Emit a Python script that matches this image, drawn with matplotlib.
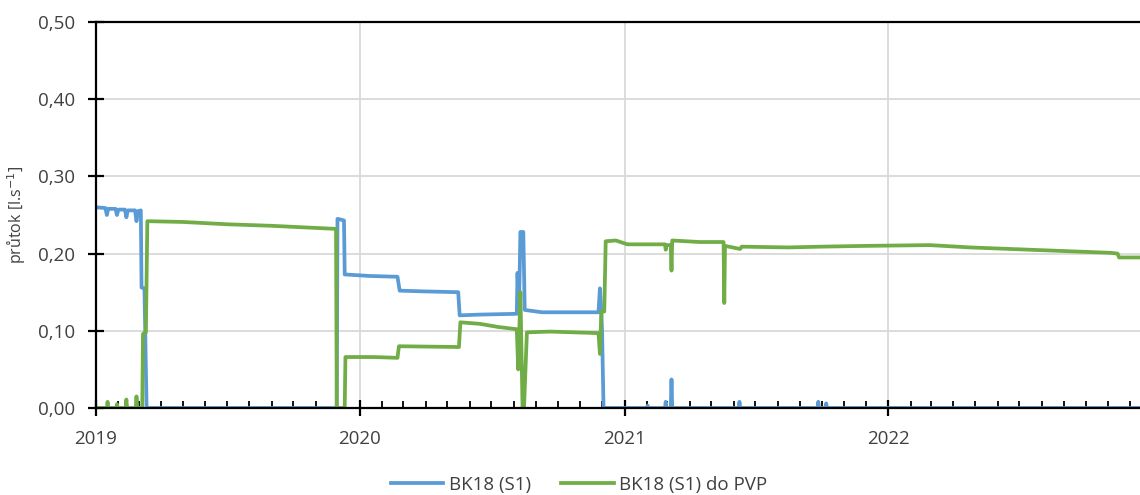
import numpy as np
import pandas as pd
import matplotlib
matplotlib.use("Agg")
import matplotlib.pyplot as plt
import matplotlib.dates as mdates
from matplotlib.ticker import FuncFormatter, MultipleLocator

plt.rcParams['font.family'] = ['Open Sans', 'DejaVu Sans']

# BK18 (S1)
blue_dates = [
    "2019-01-01", "2019-01-14", "2019-01-16", "2019-01-18", "2019-01-28", "2019-01-30",
    "2019-02-01", "2019-02-10", "2019-02-12", "2019-02-14", "2019-02-24", "2019-02-26",
    "2019-02-28", "2019-03-04", "2019-03-05", "2019-03-09", "2019-03-12",
    "2019-11-30", "2019-12-01", "2019-12-10", "2019-12-11", "2020-01-15", "2020-02-22",
    "2020-02-25", "2020-04-01", "2020-05-16", "2020-05-18", "2020-06-15", "2020-08-05",
    "2020-08-06", "2020-08-08", "2020-08-10", "2020-08-14", "2020-08-16", "2020-09-09",
    "2020-11-26", "2020-11-28", "2020-11-30", "2020-12-01", "2020-12-03",
    "2021-02-01", "2021-02-02", "2021-02-03", "2021-02-26", "2021-02-27", "2021-02-28",
    "2021-03-06", "2021-03-07", "2021-03-08", "2021-06-08", "2021-06-09", "2021-06-10",
    "2021-09-25", "2021-09-26", "2021-09-27", "2021-10-06", "2021-10-07", "2021-10-08",
    "2022-12-15",
]
blue_vals = [
    0.260, 0.259, 0.250, 0.258, 0.258, 0.250,
    0.257, 0.257, 0.247, 0.256, 0.256, 0.242,
    0.255, 0.256, 0.156, 0.155, 0.0,
    0.0, 0.245, 0.243, 0.173, 0.171, 0.170,
    0.152, 0.151, 0.150, 0.120, 0.121, 0.122,
    0.175, 0.125, 0.228, 0.228, 0.127, 0.124,
    0.124, 0.155, 0.125, 0.098, 0.0,
    0.0, 0.003, 0.0, 0.0, 0.008, 0.0,
    0.0, 0.037, 0.0, 0.0, 0.008, 0.0,
    0.0, 0.008, 0.0, 0.0, 0.006, 0.0,
    0.0,
]

# BK18 (S1) do PVP
green_dates = [
    "2019-01-01", "2019-01-16", "2019-01-17", "2019-01-18", "2019-01-29", "2019-01-30",
    "2019-01-31", "2019-02-11", "2019-02-12", "2019-02-13", "2019-02-25", "2019-02-26",
    "2019-02-27", "2019-03-06", "2019-03-07", "2019-03-11", "2019-03-13", "2019-05-01",
    "2019-07-01", "2019-09-01", "2019-11-29", "2019-11-30", "2019-12-11", "2019-12-12",
    "2020-01-20", "2020-02-22", "2020-02-24", "2020-05-17", "2020-05-19", "2020-06-15",
    "2020-07-10", "2020-08-05", "2020-08-07", "2020-08-10", "2020-08-13", "2020-08-15",
    "2020-08-19", "2020-09-20", "2020-11-26", "2020-11-28", "2020-11-30", "2020-12-04",
    "2020-12-06", "2020-12-20", "2021-01-05", "2021-02-26", "2021-02-27", "2021-02-28",
    "2021-03-06", "2021-03-07", "2021-03-08", "2021-04-15", "2021-05-18", "2021-05-19",
    "2021-05-20", "2021-06-10", "2021-06-12", "2021-08-15", "2021-10-01", "2021-12-01",
    "2022-02-27", "2022-04-24", "2022-07-16", "2022-11-04", "2022-11-14", "2022-11-16",
    "2022-12-15",
]
green_vals = [
    0.0, 0.0, 0.008, 0.0, 0.0, 0.005,
    0.0, 0.0, 0.011, 0.0, 0.0, 0.015,
    0.0, 0.0, 0.096, 0.098, 0.242, 0.241,
    0.238, 0.236, 0.232, 0.0, 0.0, 0.066,
    0.066, 0.065, 0.080, 0.079, 0.111, 0.109,
    0.105, 0.102, 0.050, 0.150, 0.0, 0.0,
    0.098, 0.099, 0.097, 0.070, 0.125, 0.125,
    0.216, 0.217, 0.212, 0.212, 0.205, 0.211,
    0.211, 0.178, 0.217, 0.215, 0.215, 0.136,
    0.210, 0.206, 0.209, 0.208, 0.209, 0.210,
    0.211, 0.208, 0.205, 0.201, 0.200, 0.195,
    0.195,
]

labels = ["BK18 (S1)", "BK18 (S1) do PVP"]
colors = ["#5B9BD5", "#70AD47"]
text_col = "#404040"

fig = plt.figure(figsize=(11.4, 4.95), dpi=100)
ax = fig.add_axes([96 / 1140, 1 - 408 / 495, 1 - 96 / 1140, (408 - 22) / 495])

ax.plot(pd.to_datetime(blue_dates), blue_vals, color=colors[0], lw=2.7,
        label=labels[0], solid_joinstyle="round")
ax.plot(pd.to_datetime(green_dates), green_vals, color=colors[1], lw=2.7,
        label=labels[1], solid_joinstyle="round")

ax.set_xlim(pd.Timestamp("2019-01-01"), pd.Timestamp("2022-12-15"))
ax.set_ylim(0, 0.5)

ax.yaxis.set_major_locator(MultipleLocator(0.1))
ax.yaxis.set_major_formatter(FuncFormatter(lambda v, p: f"{v:.2f}".replace(".", ",")))
ax.xaxis.set_major_locator(mdates.YearLocator())
ax.xaxis.set_major_formatter(mdates.DateFormatter("%Y"))
ax.xaxis.set_minor_locator(mdates.MonthLocator())

ax.grid(True, which="major", color="#d9d9d9", lw=1.3)
ax.set_axisbelow(True)

for s in ["left", "bottom", "top"]:
    ax.spines[s].set_color("black")
    ax.spines[s].set_linewidth(1.6)
ax.spines["right"].set_visible(False)

ax.tick_params(axis="y", which="major", direction="inout", length=12, width=1.6,
               labelsize=13.5, labelcolor=text_col, pad=9)
ax.tick_params(axis="x", which="major", direction="inout", length=11, width=1.6,
               labelsize=13.5, labelcolor=text_col, pad=10)
ax.tick_params(axis="x", which="minor", direction="in", length=5, width=1.3)

ax.set_ylabel("průtok [l.s$^{-1}$]", fontsize=11.5, color=text_col, labelpad=7)

fig.legend(loc="lower center", bbox_to_anchor=(0.508, -0.032), ncol=2, frameon=False,
           fontsize=13.5, handlelength=2.8, columnspacing=1.6, handletextpad=0.3,
           labelcolor=text_col)

fig.savefig("out.png", dpi=100)
